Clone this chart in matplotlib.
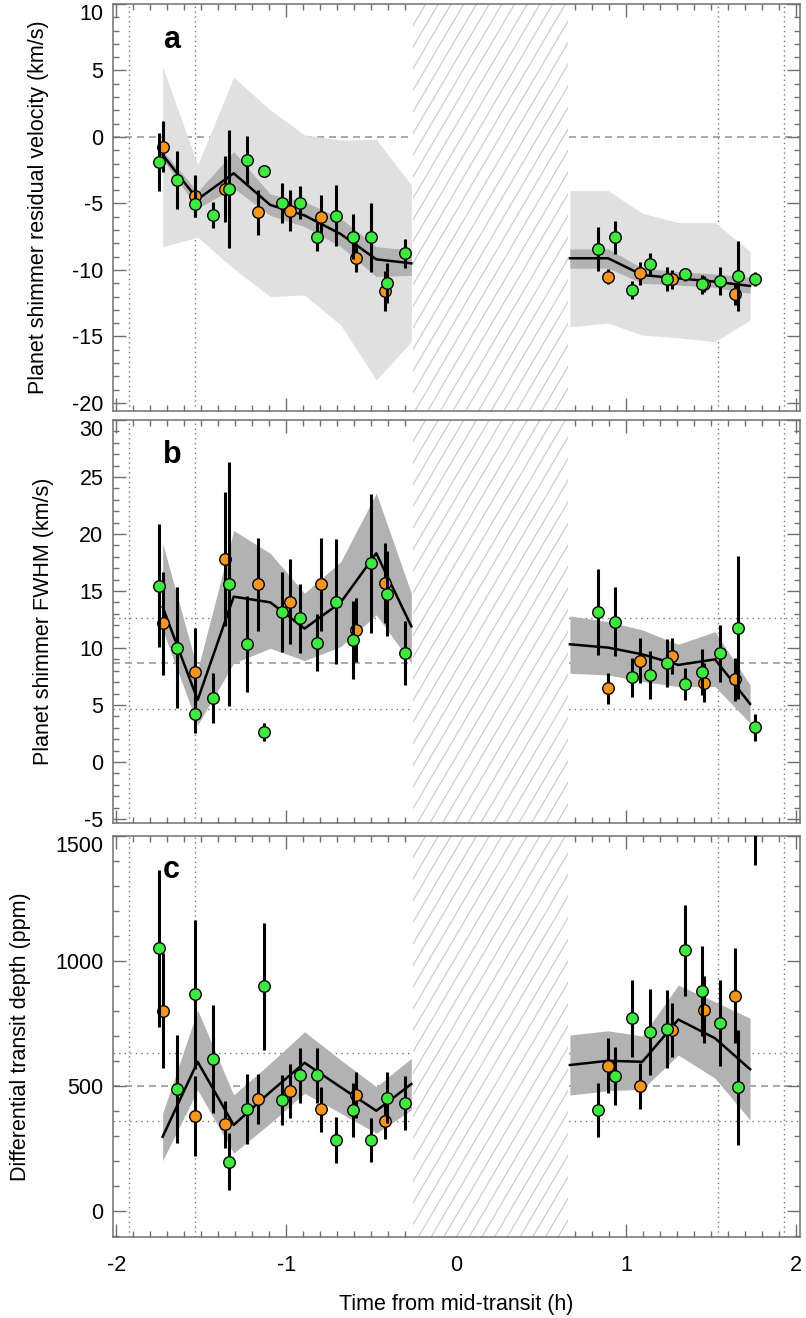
import matplotlib.pyplot as plt
import numpy as np
from matplotlib.patches import Rectangle
from matplotlib.ticker import MultipleLocator, FixedLocator

plt.rcParams['font.family'] = ['Liberation Sans', 'DejaVu Sans']
plt.rcParams['axes.unicode_minus'] = False

# times of the exposures (h from mid-transit)
t_green = [-1.748, -1.644, -1.538, -1.433, -1.335, -1.231, -1.129, -1.025, -0.919, -0.819,
           -0.711, -0.609, -0.505, -0.406, -0.300,
           0.831, 0.933, 1.035, 1.139, 1.241, 1.343, 1.447, 1.549, 1.654, 1.757]
t_orange = [-1.728, -1.538, -1.359, -1.168, -0.976, -0.795, -0.593, -0.418,
            0.893, 1.082, 1.271, 1.459, 1.640]
# binned model times
t_model_pre = [-1.728, -1.522, -1.310, -1.095, -0.893, -0.680, -0.471, -0.265]
t_model_post = [0.668, 0.893, 1.094, 1.306, 1.522, 1.728]

# contact points and in-transit gap
contacts = [-1.925, -1.54, 1.54, 1.925]
gap_start = -0.255
gap_end = 0.655

# panel a : residual velocity (km/s)
vel_green = [-1.90, -3.23, -5.04, -5.86, -3.91, -1.73, -2.53, -4.94, -4.94, -7.49,
             -5.92, -7.49, -7.54, -11.0, -8.75,
             -8.40, -7.54, -11.5, -9.57, -10.68, -10.33, -11.08, -10.8, -10.45, -10.68]
vel_green_err = [2.2, 2.2, 1.0, 1.0, 4.45, 1.8, 0.3, 1.5, 1.25, 1.1,
                 2.3, 1.7, 2.6, 1.5, 1.1,
                 1.65, 1.25, 0.7, 0.85, 0.9, 0.5, 0.7, 1.05, 2.65, 0.5]
vel_orange = [-0.73, -4.44, -3.91, -5.66, -5.54, -6.04, -9.07, -11.58,
              -10.5, -10.25, -10.7, -11.08, -11.8]
vel_orange_err = [1.9, 1.6, 2.45, 1.7, 1.55, 1.7, 1.1, 1.5,
                  0.55, 0.85, 0.7, 0.6, 0.8]
vel_model_pre = [-1.35, -4.69, -2.73, -5.11, -5.9, -7.3, -9.20, -9.50]
vel_in_lo_pre = [-1.68, -5.36, -3.86, -5.9, -6.74, -8.25, -10.5, -10.4]
vel_in_hi_pre = [-1.03, -4.11, -1.10, -4.3, -4.86, -6.11, -8.25, -8.5]
vel_out_lo_pre = [-8.25, -7.54, -9.9, -12.0, -11.88, -14.14, -18.27, -15.39]
vel_out_hi_pre = [5.29, -2.11, 4.49, 2.03, 0.15, -0.23, -0.18, -3.61]
vel_model_post = [-9.12, -9.12, -10.38, -10.63, -10.88, -11.2]
vel_in_lo_post = [-9.87, -9.87, -11.0, -11.13, -11.33, -11.76]
vel_in_hi_post = [-8.42, -8.42, -9.87, -10.13, -10.3, -10.55]
vel_out_lo_post = [-14.26, -14.0, -14.9, -15.1, -15.39, -13.76]
vel_out_hi_post = [-4.03, -4.03, -5.74, -6.44, -6.44, -8.62]
vel_ticks = [-20, -15, -10, -5, 0, 5, 10]

# panel b : FWHM (km/s)
fwhm_green = [15.44, 10.03, 4.18, 5.59, 15.61, 10.35, 2.6, 13.13, 12.6, 10.47,
              14.06, 10.7, 17.43, 14.77, 9.59,
              13.16, 12.31, 7.43, 7.63, 8.66, 6.84, 7.87, 9.53, 11.78, 3.04]
fwhm_green_err = [5.4, 5.3, 1.6, 2.2, 10.7, 4.2, 0.8, 3.5, 3.0, 2.5,
                  5.5, 3.4, 6.1, 3.7, 2.8,
                  3.8, 3.0, 1.7, 2.1, 2.1, 1.4, 2.0, 2.5, 6.3, 1.2]
fwhm_orange = [12.16, 7.87, 17.81, 15.58, 14.06, 15.58, 11.58, 15.73,
               6.46, 8.89, 9.3, 6.96, 7.25]
fwhm_orange_err = [4.5, 3.9, 5.9, 4.1, 3.7, 4.1, 2.8, 3.5,
                   1.35, 2.0, 1.6, 1.7, 1.9]
fwhm_model_pre = [13.6, 5.44, 14.5, 14.0, 11.7, 14.0, 18.3, 11.9]
fwhm_lo_pre = [11.58, 3.25, 8.66, 9.97, 8.89, 10.12, 12.9, 8.66]
fwhm_hi_pre = [19.18, 8.07, 20.3, 18.3, 14.8, 17.57, 23.57, 14.8]
fwhm_model_post = [10.32, 10.03, 9.44, 8.51, 9.0, 5.09]
fwhm_lo_post = [7.78, 7.63, 7.05, 6.61, 6.61, 3.39]
fwhm_hi_post = [12.8, 12.3, 11.58, 10.32, 11.43, 6.75]
fwhm_ref = 8.65
fwhm_ref_band = [4.65, 12.65]
fwhm_ticks = [-5, 0, 5, 10, 15, 20, 25, 30]

# panel c : differential transit depth (ppm)
depth_green = [1050, 486, 866, 606, 196, 406, 899, 443, 542, 542,
               283, 403, 283, 452, 432,
               403, 539, 770, 716, 727, 1043, 880, 752, 494, 1700]
depth_green_err = [313, 216, 297, 216, 113, 141, 254, 102, 109, 109,
                   93, 107, 87, 102, 108,
                   107, 117, 153, 173, 155, 182, 180, 173, 230, 317]
depth_orange = [800, 379, 345, 446, 479, 406, 462, 359,
                580, 500, 723, 805, 860]
depth_orange_err = [230, 160, 93, 100, 108, 90, 93, 73,
                    110, 93, 107, 135, 190]
depth_model_pre = [296, 596, 343, 475, 592, 494, 400, 507]
depth_lo_pre = [200, 483, 230, 350, 470, 390, 310, 403]
depth_hi_pre = [390, 803, 463, 590, 716, 603, 496, 610]
depth_model_post = [583, 600, 596, 765, 690, 566]
depth_lo_post = [463, 480, 486, 623, 530, 363]
depth_hi_post = [703, 720, 699, 903, 836, 770]
depth_ref = 500
depth_ref_band = [360, 633]
depth_ticks = [0, 500, 1000, 1500]

green = '#3fea3f'
orange = '#f7961f'
light = '#e0e0e0'
dark = '#b2b2b2'
spine_col = '#707070'

fig = plt.figure(figsize=(8.06, 13.18), dpi=100)
left, width = 0.1402, 0.852
ax_a = fig.add_axes([left, 0.6882, width, 0.3088])
ax_b = fig.add_axes([left, 0.3756, width, 0.3058])
ax_c = fig.add_axes([left, 0.0615, width, 0.3043])


def style(ax, ylim, ticks, minor, show_x):
    ax.set_xlim(-2.02, 2.02)
    ax.set_ylim(*ylim)
    ax.xaxis.set_major_locator(MultipleLocator(1))
    ax.xaxis.set_minor_locator(MultipleLocator(0.1))
    ax.yaxis.set_major_locator(FixedLocator(ticks))
    ax.yaxis.set_minor_locator(MultipleLocator(minor))
    ax.tick_params(which='both', direction='in', top=True, right=True,
                   color=spine_col, width=1.0, labelsize=15.5)
    ax.tick_params(which='major', length=9.5)
    ax.tick_params(which='minor', length=4.5)
    ax.tick_params(axis='x', pad=13, labelbottom=show_x)
    ax.tick_params(axis='y', pad=7)
    for s in ax.spines.values():
        s.set_color(spine_col)
        s.set_linewidth(1.1)


def hatch_gap(ax):
    ymin, ymax = ax.get_ylim()
    xlo, xhi = ax.get_xlim()
    rect = Rectangle((gap_start, ymin), gap_end - gap_start, ymax - ymin,
                     facecolor='white', edgecolor='none', zorder=2)
    ax.add_patch(rect)
    pos = ax.get_position()
    w_px = pos.width * fig.get_figwidth() * fig.dpi
    h_px = pos.height * fig.get_figheight() * fig.dpi
    px_x = w_px / (xhi - xlo)
    shift = h_px / 1.7 / px_x
    step = 12.7 / px_x
    for xs in np.arange(gap_start - shift, gap_end + step, step):
        ln, = ax.plot([xs, xs + shift], [ymin, ymax], color='#c8c8c8', lw=0.8,
                      zorder=2.1)
        ln.set_clip_path(rect)


def ref_lines(ax, dashed, dotted):
    for x in contacts:
        ax.axvline(x, color='#777777', lw=1.0, ls=(0, (1, 2.5)), zorder=1)
    ax.axhline(dashed, color='#999999', lw=1.2, ls=(0, (4.2, 3)), zorder=1)
    for y in dotted:
        ax.axhline(y, color='#777777', lw=1.0, ls=(0, (1, 3)), zorder=1)


def data(ax, yg, eg, yo, eo):
    ax.errorbar(t_orange, yo, yerr=eo, fmt='o', color='black', ecolor='black',
                elinewidth=2.2, capsize=0, ms=8.3, mfc=orange, mec='black',
                mew=1.0, zorder=6)
    ax.errorbar(t_green, yg, yerr=eg, fmt='o', color='black', ecolor='black',
                elinewidth=2.2, capsize=0, ms=8.3, mfc=green, mec='black',
                mew=1.0, zorder=7)


def finish(ax, label, xlab, letter, letter_y):
    ax.set_ylabel(label, fontsize=15.5)
    ax.yaxis.set_label_coords(xlab, 0.5)
    ax.text(0.073, letter_y, letter, transform=ax.transAxes, fontsize=22,
            fontweight='bold', va='baseline')
    # top tick label sits just under the top edge, as in the original
    ax.yaxis.get_major_ticks()[-1].label1.set_verticalalignment('top')


# ---- panel a
style(ax_a, (-20.6, 10), vel_ticks, 1, False)
ref_lines(ax_a, 0, [])
hatch_gap(ax_a)
ax_a.fill_between(t_model_pre, vel_out_lo_pre, vel_out_hi_pre, color=light, lw=0, zorder=3)
ax_a.fill_between(t_model_post, vel_out_lo_post, vel_out_hi_post, color=light, lw=0, zorder=3)
ax_a.fill_between(t_model_pre, vel_in_lo_pre, vel_in_hi_pre, color=dark, lw=0, zorder=3.1)
ax_a.fill_between(t_model_post, vel_in_lo_post, vel_in_hi_post, color=dark, lw=0, zorder=3.1)
ax_a.plot(t_model_pre, vel_model_pre, color='black', lw=1.8, zorder=4)
ax_a.plot(t_model_post, vel_model_post, color='black', lw=1.8, zorder=4)
data(ax_a, vel_green, vel_green_err, vel_orange, vel_orange_err)
finish(ax_a, 'Planet shimmer residual velocity (km/s)', -0.093, 'a', 0.892)

# ---- panel b
style(ax_b, (-5.35, 30), fwhm_ticks, 1, False)
ref_lines(ax_b, fwhm_ref, fwhm_ref_band)
hatch_gap(ax_b)
ax_b.fill_between(t_model_pre, fwhm_lo_pre, fwhm_hi_pre, color=dark, lw=0, zorder=3)
ax_b.fill_between(t_model_post, fwhm_lo_post, fwhm_hi_post, color=dark, lw=0, zorder=3)
ax_b.plot(t_model_pre, fwhm_model_pre, color='black', lw=1.8, zorder=4)
ax_b.plot(t_model_post, fwhm_model_post, color='black', lw=1.8, zorder=4)
data(ax_b, fwhm_green, fwhm_green_err, fwhm_orange, fwhm_orange_err)
finish(ax_b, 'Planet shimmer FWHM (km/s)', -0.086, 'b', 0.893)

# ---- panel c
style(ax_c, (-105, 1500), depth_ticks, 100, True)
ref_lines(ax_c, depth_ref, depth_ref_band)
hatch_gap(ax_c)
ax_c.fill_between(t_model_pre, depth_lo_pre, depth_hi_pre, color=dark, lw=0, zorder=3)
ax_c.fill_between(t_model_post, depth_lo_post, depth_hi_post, color=dark, lw=0, zorder=3)
ax_c.plot(t_model_pre, depth_model_pre, color='black', lw=1.8, zorder=4)
ax_c.plot(t_model_post, depth_model_post, color='black', lw=1.8, zorder=4)
data(ax_c, depth_green, depth_green_err, depth_orange, depth_orange_err)
ax_c.set_xlabel('Time from mid-transit (h)', fontsize=15.5, labelpad=13)
finish(ax_c, 'Differential transit depth (ppm)', -0.119, 'c', 0.895)

fig.savefig('out.png', dpi=100)
